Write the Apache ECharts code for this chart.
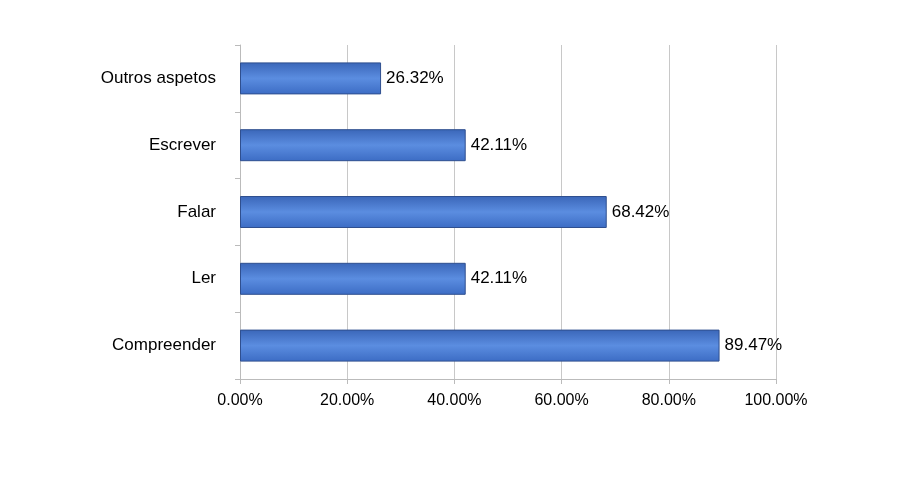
<!DOCTYPE html>
<html><head><meta charset="utf-8">
<script src="https://cdn.jsdelivr.net/npm/echarts@6/dist/echarts.min.js"></script>
<style>html,body{margin:0;background:#fff}#c{width:916px;height:499px}</style>
</head><body><div id="c"></div>
<script>
const categories = ["Compreender", "Ler", "Falar", "Escrever", "Outros aspetos"];
const values = [89.47, 42.11, 68.42, 42.11, 26.32];
const xTicks = [0, 20, 40, 60, 80, 100];

const chart = echarts.init(document.getElementById('c'));
chart.setOption({
  animation: false,
  textStyle: { fontFamily: "Liberation Sans, sans-serif" },
  grid: { left: 240, right: 140, top: 45, bottom: 120 },
  xAxis: {
    type: 'value', min: 0, max: 100, interval: 20,
    axisLabel: { formatter: v => v.toFixed(2) + '%', fontSize: 16, color: '#000', margin: 14 },
    axisLine: { show: true, lineStyle: { color: '#bbb' } },
    axisTick: { show: true, lineStyle: { color: '#bbb' } },
    splitLine: { show: true, lineStyle: { color: '#c8c8c8' } }
  },
  yAxis: {
    type: 'category', data: categories,
    axisLabel: { fontSize: 17, color: '#000', margin: 24 },
    axisLine: { show: true, lineStyle: { color: '#bbb' } },
    axisTick: { show: true, lineStyle: { color: '#bbb' } }
  },
  series: [{
    type: 'bar', data: values, barWidth: 32,
    itemStyle: {
      color: new echarts.graphic.LinearGradient(0, 0, 0, 1, [
        { offset: 0, color: '#3a66b8' },
        { offset: 0.5, color: '#5b8de0' },
        { offset: 1, color: '#3c6cc4' }
      ]),
      borderColor: '#2f4f8f', borderWidth: 1
    },
    label: { show: true, position: 'right', fontSize: 17, color: '#000',
      formatter: p => p.value.toFixed(2) + '%' }
  }]
});
</script></body></html>
